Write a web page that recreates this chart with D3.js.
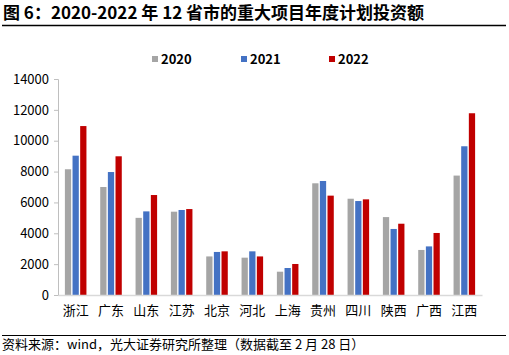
<!DOCTYPE html>
<html><head><meta charset="utf-8">
<script src="https://cdn.jsdelivr.net/npm/d3@7"></script>
<style>body{margin:0;background:#fff}svg{display:block}</style>
</head><body>
<script>
const categories = ["浙江","广东","山东","江苏","北京","河北","上海","贵州","四川","陕西","广西","江西"];
const seriesNames = ["2020","2021","2022"];
const v2020 = [8150,7000,5000,5400,2500,2420,1510,7240,6240,5050,2920,7740];
const v2021 = [9030,7970,5420,5510,2790,2830,1750,7390,6090,4280,3150,9640];
const v2022 = [10950,8990,6480,5570,2830,2500,2010,6440,6200,4620,4020,11780];
const yTicks = [0,2000,4000,6000,8000,10000,12000,14000];
const colors = ["#A5A5A5","#4472C4","#C00000"];
const titleText = "图 6：2020-2022 年 12 省市的重大项目年度计划投资额";
const sourceText = "资料来源：wind，光大证券研究所整理（数据截至 2 月 28 日）";

const W=509,H=355;
const svg=d3.select("body").append("svg").attr("width",W).attr("height",H);
const font='"Noto Sans CJK SC","Noto Sans",sans-serif';

svg.append("text").attr("x",3).attr("y",19).attr("font-family",font).attr("font-weight","bold")
  .attr("font-size",17).attr("fill","#000").text(titleText);
svg.append("line").attr("x1",2).attr("x2",506).attr("y1",25.5).attr("y2",25.5).attr("stroke","#000").attr("stroke-width",1.5);

const x0=d3.scaleBand().domain(categories).range([58,482]).paddingInner(0.39).paddingOuter(0.195);
const x1=d3.scaleBand().domain(seriesNames).range([0,x0.bandwidth()]).paddingInner(0.18);
const y=d3.scaleLinear().domain([0,14000]).range([295,79]);

const g=svg.append("g");
const series=[v2020,v2021,v2022];
seriesNames.forEach((s,si)=>{
  g.selectAll(null).data(categories).enter().append("rect")
   .attr("x",d=>x0(d)+x1(s)).attr("width",x1.bandwidth())
   .attr("y",(d,i)=>y(series[si][i])).attr("height",(d,i)=>y(0)-y(series[si][i]))
   .attr("fill",colors[si]);
});

// y axis
const ya=svg.append("g").attr("transform","translate(58,0)")
  .call(d3.axisLeft(y).tickValues(yTicks).tickSize(4).tickPadding(5).tickFormat(d3.format("d")));
ya.select(".domain").attr("stroke","#BFBFBF");
ya.selectAll(".tick line").attr("stroke","#BFBFBF");
ya.selectAll("text").attr("font-family",font).attr("font-size",13).attr("fill","#000");

// x axis
const xa=svg.append("g").attr("transform","translate(0,295)")
  .call(d3.axisBottom(x0).tickSize(0).tickPadding(11).tickSizeOuter(0));
xa.select(".domain").attr("stroke","#D9D9D9").attr("stroke-width",1.5);
xa.selectAll("text").attr("font-family",font).attr("font-size",13).attr("fill","#000");

// legend
const legX=[152,241,329];
seriesNames.forEach((s,i)=>{
  svg.append("rect").attr("x",legX[i]).attr("y",56).attr("width",6).attr("height",6).attr("fill",colors[i]);
  svg.append("text").attr("x",legX[i]+9).attr("y",64).attr("font-family",font).attr("font-weight","bold")
    .attr("font-size",13).attr("fill","#000").text(s);
});

svg.append("line").attr("x1",2).attr("x2",506).attr("y1",335.5).attr("y2",335.5).attr("stroke","#000").attr("stroke-width",1.2);
svg.append("text").attr("x",2).attr("y",349).attr("font-family",font).attr("font-size",13).attr("fill","#000").text(sourceText);
</script>
</body></html>
